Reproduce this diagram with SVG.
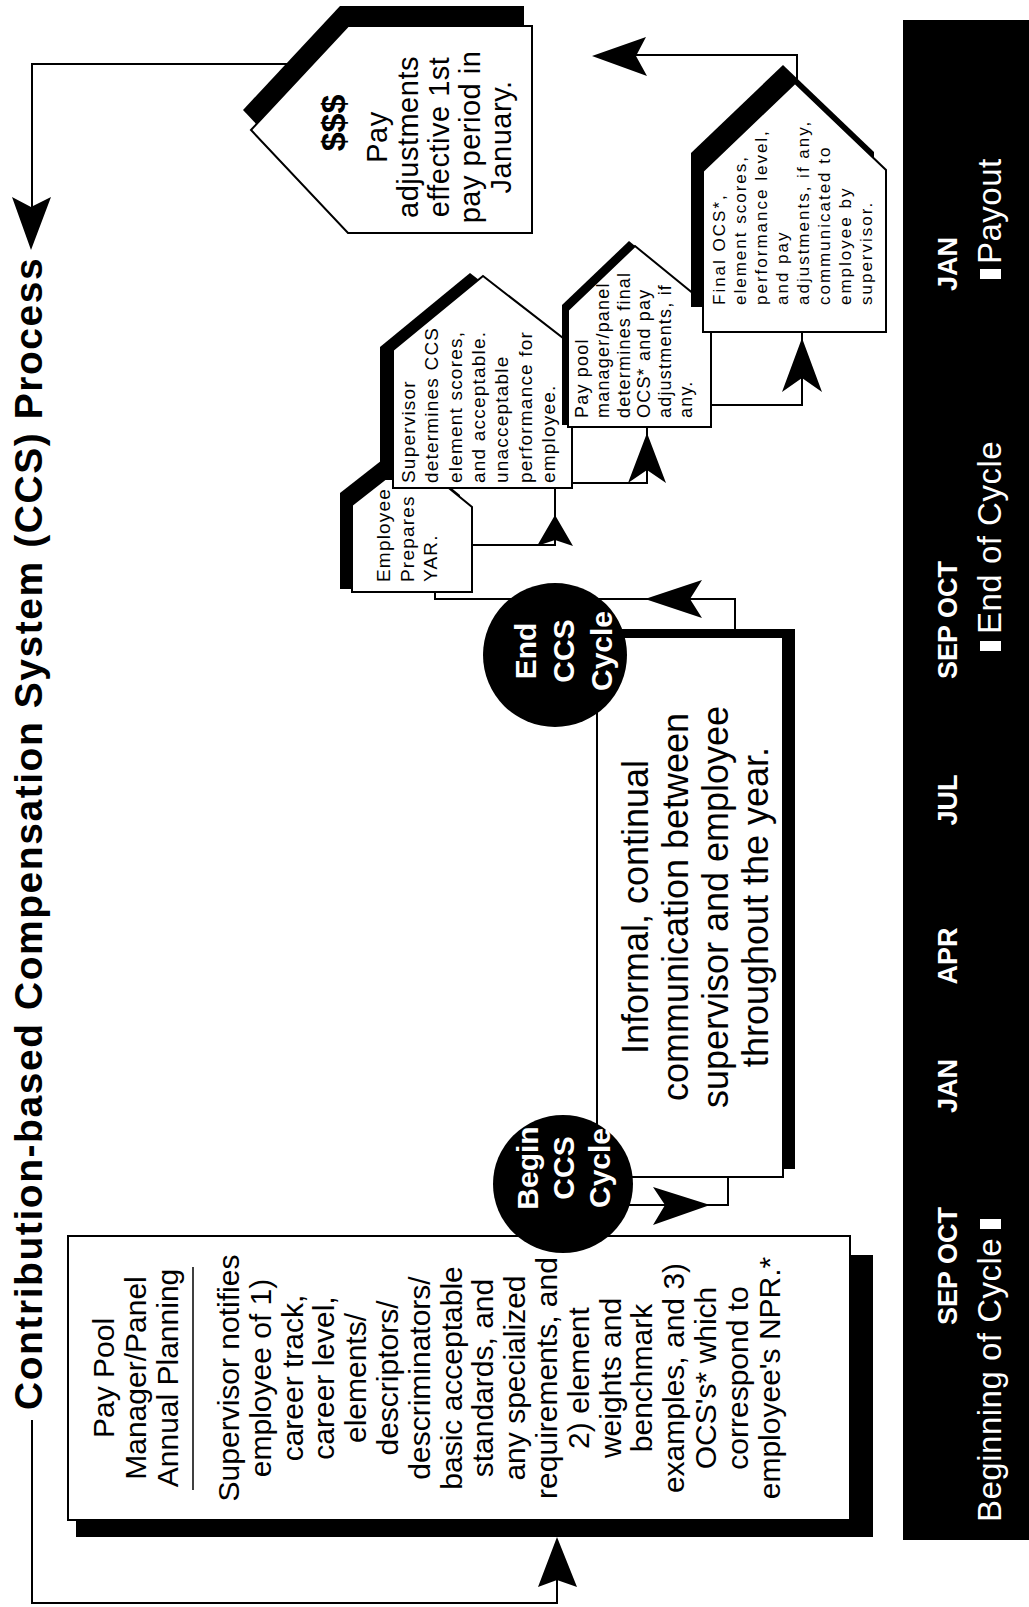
<svg xmlns="http://www.w3.org/2000/svg" width="1029" height="1607" viewBox="0 0 1029 1607">
<style>
.ln{fill:none;stroke:#000;stroke-width:2}
.ah{fill:#000;stroke:none}
.wh{fill:#fff;stroke:#000;stroke-width:2}
.sh{fill:#000;stroke:none}
.t{font-family:"Liberation Sans",Arial,sans-serif;fill:#000}
.b{font-weight:bold}
.w{fill:#fff}
.mid{text-anchor:middle}
</style>
<rect width="1029" height="1607" fill="#fff"/>

<!-- title -->
<g id="title">
<text class="t b" font-size="39" letter-spacing="1.55" transform="translate(42,1410) rotate(-90)">Contribution-based Compensation System (CCS) Process</text>
</g>

<!-- timeline bar -->
<g id="timeline">
<rect x="903" y="20" width="126" height="1520" fill="#000"/>
<g class="t b w" font-size="27">
<text class="mid" transform="translate(957,1266) rotate(-90)">SEP OCT</text>
<text class="mid" transform="translate(957,1086) rotate(-90)">JAN</text>
<text class="mid" transform="translate(957,956) rotate(-90)">APR</text>
<text class="mid" transform="translate(957,800) rotate(-90)">JUL</text>
<text class="mid" transform="translate(957,620) rotate(-90)">SEP OCT</text>
<text class="mid" transform="translate(957,264) rotate(-90)">JAN</text>
</g>
<g class="t w" font-size="33" letter-spacing="0.5">
<text transform="translate(1001,1522) rotate(-90)">Beginning of Cycle</text>
<text transform="translate(1001,634) rotate(-90)">End of Cycle</text>
<text transform="translate(1001,264) rotate(-90)">Payout</text>
</g>
<rect x="980" y="1219" width="21" height="10" fill="#fff"/>
<rect x="980" y="641" width="21" height="10" fill="#fff"/>
<rect x="980" y="269" width="21" height="10" fill="#fff"/>
</g>

<!-- connectors -->
<g id="connectors">
<path class="ln" d="M32,1420 V1603 H557 V1560"/>
<polygon class="ah" points="557,1537 577,1587 557,1580 538,1587"/>
<path class="ln" d="M288,64 H32 V215"/>
<polygon class="ah" points="31,250 12,197 31,207 51,197"/>
<path class="ln" d="M627,1205 H728 V1177"/>
<polygon class="ah" points="710,1205 653,1225 665,1205 653,1187"/>
<path class="ln" d="M735,629 V599 H435 V592"/>
<polygon class="ah" points="645,599 702,580 690,599 702,618"/>
<path class="ln" d="M472,545 H555 V488"/>
<polygon class="ah" points="555,515 573,546 555,540 537,546"/>
<path class="ln" d="M573,483 H647 V427"/>
<polygon class="ah" points="647,433 666,483 647,470 628,483"/>
<path class="ln" d="M711,405 H802 V332"/>
<polygon class="ah" points="802,338 822,392 802,378 782,392"/>
<path class="ln" d="M797,80 V55 H620"/>
<polygon class="ah" points="592,56 646,37 636,56 647,76"/>
</g>

<!-- Pay Pool planning box -->
<g id="planning">
<rect class="sh" x="76" y="1255" width="797" height="282"/>
<rect class="wh" x="68" y="1236" width="782" height="284"/>
<g class="t mid" font-size="30">
<text transform="translate(114,1378) rotate(-90)"><tspan x="0" dy="0">Pay Pool</tspan><tspan x="0" dy="32">Manager/Panel</tspan><tspan x="0" dy="32">Annual Planning</tspan></text>
<text transform="translate(239,1378) rotate(-90)"><tspan x="0" dy="0">Supervisor notifies</tspan><tspan x="0" dy="31.8">employee of 1)</tspan><tspan x="0" dy="31.8">career track,</tspan><tspan x="0" dy="31.8">career level,</tspan><tspan x="0" dy="31.8">elements/</tspan><tspan x="0" dy="31.8">descriptors/</tspan><tspan x="0" dy="31.8">descriminators/</tspan><tspan x="0" dy="31.8">basic acceptable</tspan><tspan x="0" dy="31.8">standards, and</tspan><tspan x="0" dy="31.8">any specialized</tspan><tspan x="0" dy="31.8">requirements, and</tspan><tspan x="0" dy="31.8">2) element</tspan><tspan x="0" dy="31.8">weights and</tspan><tspan x="0" dy="31.8">benchmark</tspan><tspan x="0" dy="31.8">examples, and 3)</tspan><tspan x="0" dy="31.8">OCS's* which</tspan><tspan x="0" dy="31.8">correspond to</tspan><tspan x="0" dy="31.8">employee's NPR.*</tspan></text>
</g>
<line x1="193" y1="1267" x2="193" y2="1490" stroke="#000" stroke-width="1.5"/>
</g>

<!-- Informal communication box -->
<g id="informal">
<rect class="sh" x="609" y="629" width="186" height="540"/>
<rect class="wh" x="597" y="637" width="186" height="540"/>
<text class="t mid" font-size="36" transform="translate(648,907) rotate(-90)"><tspan x="0" dy="0">Informal, continual</tspan><tspan x="0" dy="40">communication between</tspan><tspan x="0" dy="40">supervisor and employee</tspan><tspan x="0" dy="40">throughout the year.</tspan></text>
</g>

<!-- Begin CCS Cycle -->
<g id="begin">
<ellipse cx="563" cy="1184" rx="70" ry="69" fill="#000"/>
<text class="t b w mid" font-size="30" transform="translate(538,1168) rotate(-90)"><tspan x="0" dy="0">Begin</tspan><tspan x="0" dy="36">CCS</tspan><tspan x="0" dy="36">Cycle</tspan></text>
</g>

<!-- End CCS Cycle -->
<g id="end">
<circle cx="555" cy="655" r="72" fill="#000"/>
<text class="t b w mid" font-size="30" transform="translate(536,651) rotate(-90)"><tspan x="0" dy="0">End</tspan><tspan x="0" dy="38">CCS</tspan><tspan x="0" dy="38">Cycle</tspan></text>
</g>

<!-- Employee prepares YAR -->
<g id="employee">
<polygon class="sh" points="340,589 340,493 400,446 460,495 460,589"/>
<polygon class="wh" points="352,592 352,505 412,458 472,507 472,592"/>
<text class="t" font-size="19" letter-spacing="1.2" transform="translate(390,582) rotate(-90)"><tspan x="0" dy="0">Employee</tspan><tspan x="0" dy="23.5">Prepares</tspan><tspan x="0" dy="23.5">YAR.</tspan></text>
</g>

<!-- Supervisor determines -->
<g id="supervisor">
<polygon class="sh" points="380,480 380,347 470,273 559,342 559,480"/>
<polygon class="wh" points="393,488 393,350 483,276 572,345 572,488"/>
<text class="t" font-size="19" letter-spacing="1.2" transform="translate(415,483) rotate(-90)"><tspan x="0" dy="0">Supervisor</tspan><tspan x="0" dy="23.3">determines CCS</tspan><tspan x="0" dy="23.3">element scores,</tspan><tspan x="0" dy="23.3">and acceptable.</tspan><tspan x="0" dy="23.3">unacceptable</tspan><tspan x="0" dy="23.3">performance for</tspan><tspan x="0" dy="23.3">employee.</tspan></text>
</g>

<!-- Pay pool manager determines -->
<g id="paypool">
<polygon class="sh" points="562,425 562,305 629,241 705,303 705,425"/>
<polygon class="wh" points="568,427 568,310 635,246 711,308 711,427"/>
<text class="t" font-size="18" letter-spacing="1.2" transform="translate(588,418) rotate(-90)"><tspan x="0" dy="0">Pay pool</tspan><tspan x="0" dy="20.8">manager/panel</tspan><tspan x="0" dy="20.8">determines final</tspan><tspan x="0" dy="20.8">OCS* and pay</tspan><tspan x="0" dy="20.8">adjustments, if</tspan><tspan x="0" dy="20.8">any.</tspan></text>
</g>

<!-- Final OCS communicated -->
<g id="final">
<polygon class="sh" points="691,307 691,153 783,65 874,152 874,307"/>
<polygon class="wh" points="703,332 703,171 795,83 886,170 886,332"/>
<text class="t" font-size="17" letter-spacing="2" transform="translate(725,305) rotate(-90)"><tspan x="0" dy="0">Final OCS*,</tspan><tspan x="0" dy="21">element scores,</tspan><tspan x="0" dy="21">performance level,</tspan><tspan x="0" dy="21">and pay</tspan><tspan x="0" dy="21">adjustments, if any,</tspan><tspan x="0" dy="21">communicated to</tspan><tspan x="0" dy="21">employee by</tspan><tspan x="0" dy="21">supervisor.</tspan></text>
</g>

<!-- Pay adjustments -->
<g id="payout">
<polygon class="sh" points="243,110 340,6 524,6 524,213 340,213"/>
<polygon class="wh" points="251,130 348,26 532,26 532,233 348,233"/>
<text class="t b mid" font-size="34" transform="translate(345,123) rotate(-90)">$$$</text>
<text class="t mid" font-size="29" letter-spacing="0.5" transform="translate(387,137) rotate(-90)"><tspan x="0" dy="0">Pay</tspan><tspan x="0" dy="31">adjustments</tspan><tspan x="0" dy="31">effective 1st</tspan><tspan x="0" dy="31">pay period in</tspan><tspan x="0" dy="31">January.</tspan></text>
</g>
</svg>
